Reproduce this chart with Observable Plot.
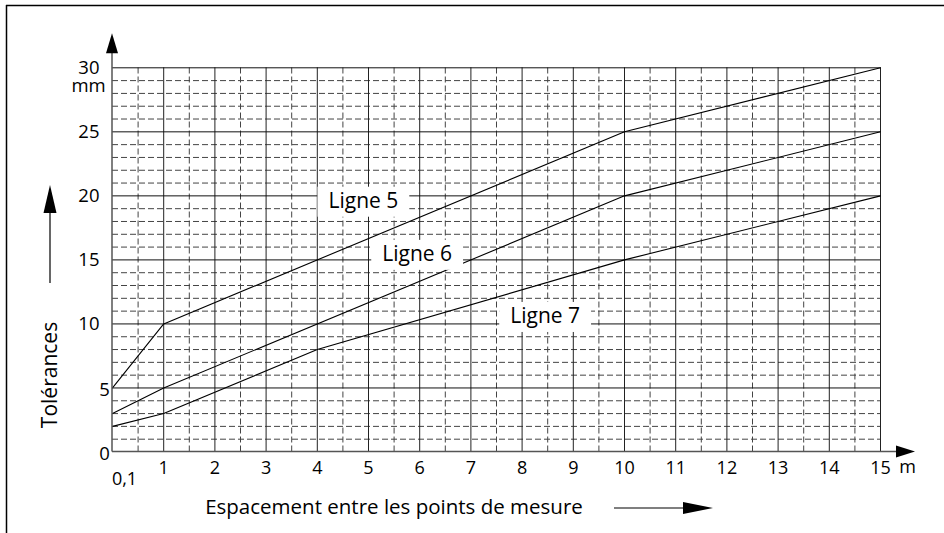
<!DOCTYPE html>
<html><head><meta charset="utf-8">
<script src="https://cdn.jsdelivr.net/npm/d3@7"></script>
<script src="https://cdn.jsdelivr.net/npm/@observablehq/plot@0.6"></script>
<style>
html,body{margin:0;padding:0;background:#fff;}
#chart svg{display:block}
</style></head><body><div id="chart"></div>
<script>
// ---- data ----
const xTicks = [0.1, 1, 2, 3, 4, 5, 6, 7, 8, 9, 10, 11, 12, 13, 14, 15];
const xTickLabels = ["0,1", "1", "2", "3", "4", "5", "6", "7", "8", "9", "10", "11", "12", "13", "14", "15"];
const yTicks = [0, 5, 10, 15, 20, 25, 30];
const yTickLabels = ["0", "5", "10", "15", "20", "25", "30"];
const yMinorStep = 1; // mm
const xUnit = "m";
const yUnit = "mm";
const xTitle = "Espacement entre les points de mesure";
const yTitle = "Tolérances";

const ligne5X = [0.1, 1, 10, 15];
const ligne5Y = [5, 10, 25, 30];
const ligne6X = [0.1, 1, 10, 15];
const ligne6Y = [3, 5, 20, 25];
const ligne7X = [0.1, 1, 4, 10, 15];
const ligne7Y = [2, 3, 8, 15, 20];

const labelNames = ["Ligne 5", "Ligne 6", "Ligne 7"];
const labelX = [4.9, 5.95, 8.45];
const labelY = [19.6, 15.45, 10.6];

// The original axis stretches the 0,1 – 1 m interval to a full unit.
const pos = v => (v < xTicks[1] ? (v - xTicks[0]) / (xTicks[1] - xTicks[0]) : v);

// ---- derived tables ----
const series = [
  ...ligne5X.map((x, i) => ({serie: "Ligne 5", x, y: ligne5Y[i]})),
  ...ligne6X.map((x, i) => ({serie: "Ligne 6", x, y: ligne6Y[i]})),
  ...ligne7X.map((x, i) => ({serie: "Ligne 7", x, y: ligne7Y[i]}))
];
const labels = labelNames.map((t, i) => ({t, x: labelX[i], y: labelY[i]}));
const xPos = xTicks.map(pos);
const xMinor = xPos.slice(1).map((v, i) => (v + xPos[i]) / 2);
const yMinor = d3.range(yTicks[0], yTicks[yTicks.length - 1], yMinorStep).filter(v => !yTicks.includes(v));
const xMin = xPos[0], xMax = xPos[xPos.length - 1];
const yMin = yTicks[0], yMax = yTicks[yTicks.length - 1];
const xLab = xTicks.map((v, i) => ({v: pos(v), t: xTickLabels[i]}));
const yLab = yTicks.map((v, i) => ({v, t: yTickLabels[i]}));

const FONT = "'Open Sans', 'Noto Sans', sans-serif";
const dash = "6,3";

const plot = Plot.plot({
  width: 944,
  height: 533,
  margin: 0,
  x: {domain: [xMin, xMax], range: [112, 880], axis: null},
  y: {domain: [yMin, yMax], range: [451.5, 67.3], axis: null},
  style: {fontFamily: FONT, background: "white", color: "#000"},
  marks: [
    Plot.ruleX(xMinor, {y1: yMin, y2: yMax, stroke: "#444", strokeDasharray: dash, strokeWidth: 1}),
    Plot.ruleY(yMinor, {x1: xMin, x2: xMax, stroke: "#444", strokeDasharray: dash, strokeWidth: 1}),
    Plot.ruleX(xPos.slice(1), {y1: yMin, y2: yMax, stroke: "#222", strokeWidth: 1}),
    Plot.ruleY(yTicks.slice(1), {x1: xMin, x2: xMax, stroke: "#111", strokeWidth: 1}),
    Plot.line(series, {x: d => pos(d.x), y: "y", z: "serie", stroke: "#000", strokeWidth: 1.1}),
    Plot.text(labels, {x: d => pos(d.x), y: "y", text: "t", fontSize: 21, fill: "#000"}),
    // x tick labels
    Plot.text(xLab.slice(1), {x: "v", y: yMin, text: "t", dy: 16, fontSize: 18, fill: "#000"}),
    Plot.text(xLab.slice(0, 1), {x: "v", y: yMin, text: "t", dy: 27, dx: 12, fontSize: 18, fill: "#000"}),
    Plot.text([xUnit], {x: xMax, y: yMin, text: d => d, dx: 27, dy: 15, fontSize: 18, fill: "#000"}),
    // y tick labels
    Plot.text(yLab.filter(d => d.v >= 10), {x: xMin, y: "v", text: "t", dx: -13, textAnchor: "end", fontSize: 18.5, fill: "#000"}),
    Plot.text(yLab.filter(d => d.v < 10), {x: xMin, y: "v", text: "t", dx: -8, dy: 2, fontSize: 18.5, fill: "#000"}),
    Plot.text([yUnit], {x: xMin, y: yMax, text: d => d, dx: -24, dy: 18, fontSize: 18.5, fill: "#000"})
  ]
});

document.getElementById("chart").appendChild(plot);

const svg = d3.select(plot);
const sx = plot.scale("x"), sy = plot.scale("y");
const X0 = sx.apply(xMin), X1 = sx.apply(xMax), Y0 = sy.apply(yMin), Y1 = sy.apply(yMax);

// white boxes behind the line labels
svg.selectAll("text").filter(function () { return labelNames.includes(this.textContent); }).each(function () {
  const b = this.getBBox();
  const r = document.createElementNS("http://www.w3.org/2000/svg", "rect");
  r.setAttribute("x", b.x - 11);
  r.setAttribute("y", b.y + 1);
  r.setAttribute("width", b.width + 22);
  r.setAttribute("height", b.height + 2);
  r.setAttribute("fill", "white");
  r.setAttribute("stroke", "none");
  const tr = this.getAttribute("transform");
  if (tr) r.setAttribute("transform", tr);
  this.parentNode.insertBefore(r, this);
});

const deco = svg.append("g");
// border (top and left)
deco.append("line").attr("x1", 6).attr("x2", 944).attr("y1", 5.5).attr("y2", 5.5).attr("stroke", "#000").attr("stroke-width", 1.5);
deco.append("line").attr("x1", 6.5).attr("x2", 6.5).attr("y1", 5).attr("y2", 533).attr("stroke", "#000").attr("stroke-width", 1.5);

// axes with arrows
deco.append("line").attr("x1", X0).attr("x2", X0).attr("y1", Y0).attr("y2", Y1 - 16).attr("stroke", "#555").attr("stroke-width", 1.5);
deco.append("path").attr("d", `M${X0},${Y1 - 34}L${X0 + 6},${Y1 - 14}L${X0 - 6},${Y1 - 14}Z`).attr("fill", "#000");
deco.append("line").attr("x1", X0).attr("x2", X1 + 18).attr("y1", Y0).attr("y2", Y0).attr("stroke", "#555").attr("stroke-width", 1.5);
deco.append("path").attr("d", `M${X1 + 35},${Y0}L${X1 + 16},${Y0 - 6}L${X1 + 16},${Y0 + 6}Z`).attr("fill", "#000");

// axis titles
deco.append("text").attr("transform", "translate(50,375) rotate(-90)").attr("text-anchor", "middle").attr("dy", "0.35em")
  .attr("font-family", FONT).attr("font-size", 21).text(yTitle);
deco.append("line").attr("x1", 50).attr("x2", 50).attr("y1", 283).attr("y2", 205).attr("stroke", "#000").attr("stroke-width", 1.2);
deco.append("path").attr("d", "M50,185L56.5,213L43.5,213Z").attr("fill", "#000");

deco.append("text").attr("x", 394).attr("y", 507).attr("text-anchor", "middle").attr("dy", "0.35em")
  .attr("font-family", FONT).attr("font-size", 20.5).text(xTitle);
deco.append("line").attr("x1", 614).attr("x2", 690).attr("y1", 508).attr("y2", 508).attr("stroke", "#000").attr("stroke-width", 1.2);
deco.append("path").attr("d", "M713,508L683,502L683,514Z").attr("fill", "#000");
</script>
</body></html>
